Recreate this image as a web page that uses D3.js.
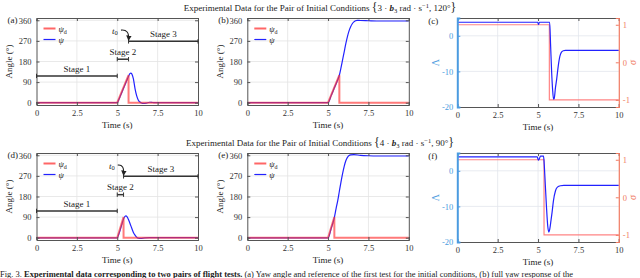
<!DOCTYPE html>
<html><head><meta charset="utf-8">
<script src="https://cdn.jsdelivr.net/npm/d3@7"></script>
<style>
body{margin:0;background:#fff}
svg{display:block}
text{font-family:"Liberation Serif","Times New Roman",serif;fill:#222}
</style>
</head><body>
<svg id="c" width="640" height="278"></svg>
<script>
// ---------- data ----------
const xTicks = [0, 2.5, 5, 7.5, 10];
const xTickLabels = ["0", "2.5", "5", "7.5", "10"];
const angleTicks = [0, 90, 180, 270, 360];
const lambdaTicks = [-20, -10, 0];
const lambdaTickLabels = ["-20", "-10", "0"];
const sigmaTicks = [-1, 0, 1];
const sigmaTickLabels = ["-1", "0", "1"];

// Row 1 : {3 b3 rad/s, 120°}
const refT1 = [0, 5, 5.7, 5.7, 10];
const refV1 = [0, 0, 120, 0, 0];
const psiT_a = [0, 5.0, 5.1, 5.2, 5.3, 5.4, 5.5, 5.6, 5.7, 5.78, 5.84, 5.9, 6.0, 6.1, 6.2, 6.3, 6.4, 6.5, 6.6, 6.8, 7.0, 7.2, 7.5, 10];
const psiV_a = [0, 0, 14, 31, 48, 65, 82, 99, 116, 127, 129, 126, 104, 62, 31, 12, 3, -1, -3, -2, 2, 1, 0, 0];
const psiT_b = [0, 5.0, 5.2, 5.4, 5.6, 5.7, 5.8, 5.9, 6.0, 6.1, 6.2, 6.3, 6.4, 6.5, 6.6, 6.7, 6.8, 7.0, 7.5, 8, 10];
const psiV_b = [0, 0, 32, 66, 100, 120, 152, 187, 222, 258, 289, 314, 332, 345, 353, 358, 360, 359, 358, 357, 357];
const sigT1 = [0, 5.7, 5.7, 10];
const sigV1 = [1, 1, -1, -1];
const lamT_c = [0, 4.98, 5.03, 5.08, 5.72, 5.78, 5.84, 5.9, 5.96, 6.0, 6.08, 6.15, 6.25, 6.35, 6.45, 6.56, 6.7, 10];
const lamV_c = [3.8, 3.8, 3.2, 3.8, 3.8, -3, -10, -15, -17.8, -17.6, -14.5, -12.3, -8.5, -5.8, -4.6, -4.2, -4.1, -4.1];
const stageT0_1 = [0, 5, 5.7];
const stageT1_1 = [5, 5.7, 10];
const stageLv_1 = [117, 190, 268];

// Row 2 : {4 b3 rad/s, 90°}
const refT2 = [0, 5, 5.39, 5.39, 10];
const refV2 = [0, 0, 90, 0, 0];
const psiT_d = [0, 5.0, 5.1, 5.2, 5.3, 5.4, 5.48, 5.54, 5.6, 5.7, 5.8, 5.9, 6.0, 6.1, 6.2, 6.3, 6.45, 6.7, 7, 10];
const psiV_d = [-1, -1, 16, 38, 62, 84, 93, 95, 92, 78, 60, 41, 23, 11, 2, -2, -3, -1, 0, 0];
const psiT_e = [0, 5.0, 5.2, 5.39, 5.5, 5.6, 5.7, 5.8, 5.9, 6.0, 6.1, 6.2, 6.3, 6.4, 6.6, 7.0, 7.5, 8, 10];
const psiV_e = [-1, -1, 42, 88, 128, 162, 203, 243, 280, 312, 336, 351, 359, 362, 363, 360, 358, 357, 357];
const sigT2 = [0, 5.37, 5.37, 10];
const sigV2 = [1, 1, -1, -1];
const lamT_f = [0, 4.95, 5.02, 5.08, 5.15, 5.34, 5.38, 5.45, 5.52, 5.6, 5.67, 5.72, 5.8, 5.87, 5.95, 6.08, 6.2, 6.39, 6.6, 10];
const lamV_f = [3.9, 3.9, 3.0, 3.4, 4.1, 4.1, 2, -4, -10, -15.5, -17.2, -16.5, -14, -11.6, -8.5, -5.6, -4.6, -4.2, -4.1, -4.1];
const stageT0_2 = [0, 5, 5.39];
const stageT1_2 = [5, 5.39, 10];
const stageLv_2 = [117, 188, 268];

const stageNames = ["Stage 1", "Stage 2", "Stage 3"];
const t0Pos1 = [4.86, 315];
const t0Pos2 = [4.66, 315];

// ---------- drawing ----------
const svg = d3.select("#c");
const FONT = "Liberation Serif";
const defs = svg.append("defs");
defs.append("marker").attr("id", "arr").attr("viewBox", "0 0 10 10")
  .attr("refX", 8).attr("refY", 5).attr("markerWidth", 5).attr("markerHeight", 5)
  .attr("orient", "auto")
  .append("path").attr("d", "M0,0L10,5L0,10z").attr("fill", "#222");

const colX = [36.5, 247.3, 457.3];
const W = 161.5;
const rows = [{top: 18, bot: 105, botL: 107}, {top: 153, bot: 240, botL: 242}];
const RED = "#ff3333", BLUE = "#2222ff", GRID = "#e3e3e3", AX = "#555";
const LBLUE = "#4b9be0", SALMON = "#f07a62";

function pts(T, V) { return T.map((t, i) => [t, V[i]]); }

function styleAxis(ax, col, fs) {
  ax.attr("font-family", FONT);
  ax.select(".domain").attr("stroke", col);
  ax.selectAll(".tick line").attr("stroke", col);
  ax.selectAll("text").attr("font-size", fs).style("font-family", FONT);
}

function frame(g, x, y, x0, y0, w, h, yTicks, gridCol) {
  g.append("g").selectAll("line").data(xTicks.slice(1, -1)).join("line")
    .attr("x1", d => x(d)).attr("x2", d => x(d)).attr("y1", y0).attr("y2", y0 + h)
    .attr("stroke", gridCol).attr("stroke-width", 0.8);
  g.append("g").selectAll("line").data(yTicks).join("line")
    .attr("x1", x0).attr("x2", x0 + w).attr("y1", d => y(d)).attr("y2", d => y(d))
    .attr("stroke", gridCol).attr("stroke-width", 0.8);
}

function xAxes(g, x, y0, h) {
  const ax = g.append("g").attr("transform", `translate(0,${y0 + h})`)
    .call(d3.axisBottom(x).tickValues(xTicks).tickFormat((d, i) => xTickLabels[i]).tickSize(-3).tickPadding(5));
  styleAxis(ax, AX, 8.5);
  ax.selectAll("text").style("fill", "#333");
  const at = g.append("g").attr("transform", `translate(0,${y0})`)
    .call(d3.axisTop(x).tickValues(xTicks).tickFormat("").tickSize(-3));
  styleAxis(at, AX, 8.5);
  g.append("text").attr("x", x(5)).attr("y", y0 + h + 23).attr("text-anchor", "middle")
    .attr("font-size", 9).text("Time (s)");
}

function legend(g, lx, ly) {
  const items = [{c: RED, op: 0.75, w: 2}, {c: BLUE, op: 1, w: 1.2}];
  items.forEach((it, i) => {
    g.append("line").attr("x1", lx).attr("x2", lx + 12).attr("y1", ly + i * 11).attr("y2", ly + i * 11)
      .attr("stroke", it.c).attr("stroke-width", it.w).attr("stroke-opacity", it.op);
  });
  const t1 = g.append("text").attr("x", lx + 15).attr("y", ly + 3).attr("font-size", 8.5);
  t1.append("tspan").attr("font-style", "italic").text("ψ");
  t1.append("tspan").attr("font-size", 6).attr("dy", 2).text("d");
  g.append("text").attr("x", lx + 15).attr("y", ly + 14).attr("font-size", 8.5).attr("font-style", "italic").text("ψ");
}

function anglePanel(col, row, label, refT, refV, psiT, psiV, stages) {
  const x0 = colX[col], y0 = rows[row].top, h = rows[row].bot - rows[row].top;
  const x = d3.scaleLinear().domain([0, 10]).range([x0, x0 + W]);
  const y = d3.scaleLinear().domain([-10, 370]).range([y0 + h, y0]);
  const g = svg.append("g");
  frame(g, x, y, x0, y0, W, h, angleTicks.slice(1), GRID);
  const line = d3.line().x(d => x(d[0])).y(d => y(d[1]));
  const lineS = d3.line().x(d => x(d[0])).y(d => y(d[1])).curve(d3.curveMonotoneX);
  g.append("path").attr("d", lineS(pts(psiT, psiV))).attr("fill", "none").attr("stroke", BLUE).attr("stroke-width", 1.2);
  g.append("path").attr("d", line(pts(refT, refV))).attr("fill", "none").attr("stroke", RED)
    .attr("stroke-width", 2).attr("stroke-opacity", 0.65);
  xAxes(g, x, y0, h);
  const ay = g.append("g").attr("transform", `translate(${x0},0)`)
    .call(d3.axisLeft(y).tickValues(angleTicks).tickSize(-3).tickPadding(5));
  styleAxis(ay, AX, 8.5);
  ay.selectAll("text").style("fill", "#333");
  const ar = g.append("g").attr("transform", `translate(${x0 + W},0)`)
    .call(d3.axisRight(y).tickValues(angleTicks).tickFormat("").tickSize(-3));
  styleAxis(ar, AX, 8.5);
  g.append("text").attr("transform", `translate(${x0 - 24.5},${y0 + h / 2}) rotate(-90)`)
    .attr("text-anchor", "middle").attr("font-size", 9).text("Angle (°)");
  g.append("text").attr("x", x0 - 29).attr("y", y(360) + 3).attr("font-size", 9).text(label);
  legend(g, x0 + 7, y0 + 10.5);
  if (stages) {
    const sg = g.append("g").attr("stroke", "#333").attr("stroke-width", 1.5);
    stages.t0.forEach((t, i) => {
      const yy = y(stages.lv[i]);
      sg.append("line").attr("x1", x(t)).attr("x2", x(stages.t1[i])).attr("y1", yy).attr("y2", yy);
      sg.append("line").attr("x1", x(t)).attr("x2", x(t)).attr("y1", yy - 2.2).attr("y2", yy + 2.2).attr("stroke-width", 1);
      sg.append("line").attr("x1", x(stages.t1[i])).attr("x2", x(stages.t1[i])).attr("y1", yy - 2.2).attr("y2", yy + 2.2).attr("stroke-width", 1);
      g.append("text").attr("x", x((t + stages.t1[i]) / 2)).attr("y", yy - 4.3)
        .attr("text-anchor", "middle").attr("font-size", 9).text(stageNames[i]);
    });
    const tp = stages.t0pos;
    const tt = g.append("text").attr("x", x(tp[0])).attr("y", y(tp[1]) + 3).attr("text-anchor", "middle").attr("font-size", 9);
    tt.append("tspan").attr("font-style", "italic").text("t");
    tt.append("tspan").attr("font-size", 6.5).attr("dy", 1.5).text("0");
    const ex = x(stages.t0[2]), ey = y(stages.lv[2]) - 1.5;
    const sx = x(tp[0]) + 6, sy = y(tp[1]) - 0.5;
    g.append("path").attr("d", `M${sx},${sy} Q${ex + 1},${sy - 1} ${ex},${ey}`)
      .attr("fill", "none").attr("stroke", "#222").attr("stroke-width", 1.1).attr("marker-end", "url(#arr)");
  }
}

function lambdaPanel(col, row, label, sigT, sigV, lamT, lamV) {
  const x0 = colX[col], y0 = rows[row].top, h = rows[row].botL - rows[row].top;
  const x = d3.scaleLinear().domain([0, 10]).range([x0, x0 + W]);
  const yL = d3.scaleLinear().domain([-20, 5]).range([y0 + h, y0]);
  const yR = d3.scaleLinear().domain([-1.19, 1.18]).range([y0 + h, y0]);
  const g = svg.append("g");
  frame(g, x, yL, x0, y0, W, h, [-10, 0], "#e2e6ec");
  const line = d3.line().x(d => x(d[0])).y(d => yR(d[1]));
  const lineL = d3.line().x(d => x(d[0])).y(d => yL(d[1])).curve(d3.curveMonotoneX);
  g.append("path").attr("d", line(pts(sigT, sigV))).attr("fill", "none").attr("stroke", "#ff7070")
    .attr("stroke-width", 1.2).attr("stroke-opacity", 0.85);
  g.append("path").attr("d", lineL(pts(lamT, lamV))).attr("fill", "none").attr("stroke", BLUE).attr("stroke-width", 1.2);
  xAxes(g, x, y0, h);
  const ay = g.append("g").attr("transform", `translate(${x0},0)`)
    .call(d3.axisLeft(yL).tickValues(lambdaTicks).tickFormat((d, i) => lambdaTickLabels[i]).tickSize(-3).tickPadding(4));
  styleAxis(ay, LBLUE, 8.5);
  ay.select(".domain").attr("stroke-width", 2);
  ay.selectAll("text").style("fill", LBLUE);
  const ar = g.append("g").attr("transform", `translate(${x0 + W},0)`)
    .call(d3.axisRight(yR).tickValues(sigmaTicks).tickFormat((d, i) => sigmaTickLabels[i]).tickSize(-3).tickPadding(4));
  styleAxis(ar, SALMON, 8.5);
  ar.select(".domain").attr("stroke-width", 1.2);
  ar.selectAll("text").style("fill", SALMON);
  g.append("text").attr("transform", `translate(${x0 - 18},${y0 + h / 2}) rotate(-90)`)
    .attr("text-anchor", "middle").attr("font-size", 10).style("fill", LBLUE).text("Λ");
  g.append("text").attr("transform", `translate(${x0 + W + 17},${y0 + h / 2}) rotate(-90)`)
    .attr("text-anchor", "middle").attr("font-size", 10).attr("font-style", "italic").style("fill", SALMON).text("σ");
  g.append("text").attr("x", x0 - 29).attr("y", y0 + 5.5).attr("font-size", 9).text(label);
}

function title(yb, n, deg) {
  const t = svg.append("text").attr("x", 320).attr("y", yb).attr("text-anchor", "middle").attr("font-size", 9);
  t.append("tspan").text("Experimental Data for the Pair of Initial Conditions ");
  t.append("tspan").attr("font-size", 12).text("{");
  t.append("tspan").text(n + " · ");
  t.append("tspan").attr("font-weight", "bold").attr("font-style", "italic").text("b");
  t.append("tspan").attr("font-size", 6.5).attr("dy", 1.5).text("3");
  t.append("tspan").attr("dy", -1.5).text(" rad · s");
  t.append("tspan").attr("font-size", 6.5).attr("dy", -3).text("−1");
  t.append("tspan").attr("dy", 3).text(", " + deg + "°");
  t.append("tspan").attr("font-size", 12).text("}");
}

title(11, 3, 120);
title(146, 4, 90);

anglePanel(0, 0, "(a)", refT1, refV1, psiT_a, psiV_a, {t0: stageT0_1, t1: stageT1_1, lv: stageLv_1, t0pos: t0Pos1});
anglePanel(1, 0, "(b)", refT1, refV1, psiT_b, psiV_b, null);
lambdaPanel(2, 0, "(c)", sigT1, sigV1, lamT_c, lamV_c);
anglePanel(0, 1, "(d)", refT2, refV2, psiT_d, psiV_d, {t0: stageT0_2, t1: stageT1_2, lv: stageLv_2, t0pos: t0Pos2});
anglePanel(1, 1, "(e)", refT2, refV2, psiT_e, psiV_e, null);
lambdaPanel(2, 1, "(f)", sigT2, sigV2, lamT_f, lamV_f);

// caption (at the bottom edge, as in the source figure)
const cap = svg.append("text").attr("x", 0).attr("y", 276.5).attr("font-size", 8.5);
cap.append("tspan").text("Fig. 3.    ");
cap.append("tspan").attr("font-weight", "bold").text("Experimental data corresponding to two pairs of flight tests. ");
cap.append("tspan").text("(a) Yaw angle and reference of the first test for the initial conditions, (b) full yaw response of the");
</script>
</body></html>
